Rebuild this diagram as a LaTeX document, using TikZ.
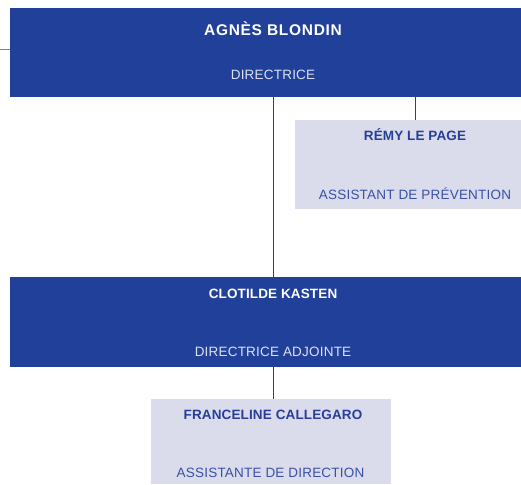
\documentclass[tikz,border=0pt]{standalone}
\usepackage{fontspec}
\setmainfont{Liberation Sans}
\newfontfamily\namefont{Liberation Sans}[LetterSpace=1]
\newfontfamily\topnamefont{Liberation Sans}[LetterSpace=4.5]
\newfontfamily\titlefont{Liberation Sans}[LetterSpace=1.5]
\definecolor{darkbox}{RGB}{33,64,154}
\definecolor{lightbox}{RGB}{218,220,236}
\definecolor{lighttext}{RGB}{221,224,242}
\definecolor{bluetext}{RGB}{40,62,152}
\definecolor{bluetitle}{RGB}{58,80,166}
\definecolor{linkblue}{RGB}{33,64,154}
\definecolor{sideblue}{RGB}{110,130,190}
\begin{document}
\begin{tikzpicture}[x=1pt,y=-1pt,
  darkrect/.style={fill=darkbox,draw=none,inner sep=0pt,anchor=north west},
  lightrect/.style={fill=lightbox,draw=none,inner sep=0pt,anchor=north west},
  topname/.style={text=white,font=\topnamefont\bfseries\fontsize{15.5}{18}\selectfont,inner sep=0pt,anchor=base},
  namedark/.style={text=white,font=\namefont\bfseries\fontsize{13.5}{16}\selectfont,inner sep=0pt,anchor=base},
  titledark/.style={text=lighttext,font=\titlefont\fontsize{13.5}{16}\selectfont,inner sep=0pt,anchor=base},
  namelight/.style={text=bluetext,font=\namefont\bfseries\fontsize{13.5}{16}\selectfont,inner sep=0pt,anchor=base},
  titlelight/.style={text=bluetitle,font=\titlefont\fontsize{13.5}{16}\selectfont,inner sep=0pt,anchor=base},
  link/.style={draw=linkblue,line width=1pt}]
\useasboundingbox (0,0) rectangle (521,484);
% boxes
\node[darkrect,minimum width=511pt,minimum height=89pt] (dir) at (10,8) {};
\node[lightrect,minimum width=226pt,minimum height=89pt] (prev) at (295,120) {};
\node[darkrect,minimum width=511pt,minimum height=90pt] (adj) at (10,277) {};
\node[lightrect,minimum width=240pt,minimum height=85pt] (asst) at (151,399) {};
% texts
\node[topname] (dirname) at (273,35.7) {AGNÈS BLONDIN};
\node[titledark] (dirtitle) at (273,80) {DIRECTRICE};
\node[namelight] (prevname) at (415,140) {RÉMY LE PAGE};
\node[titlelight] (prevtitle) at (415,199.3) {ASSISTANT DE PRÉVENTION};
\node[namedark] (adjname) at (273,298.3) {CLOTILDE KASTEN};
\node[titledark] (adjtitle) at (273,356.5) {DIRECTRICE ADJOINTE};
\node[namelight] (asstname) at (273,419) {FRANCELINE CALLEGARO};
\node[titlelight] (assttitle) at (270.5,477.7) {ASSISTANTE DE DIRECTION};
% connectors
\coordinate (side) at (0,50);
\draw[draw=sideblue,line width=1pt] (side) -- (side -| dir.west);
\draw[link] (dir.south -| dirtitle) -- (adj.north -| adjname);
\draw[link] (dir.south -| prevname) -- (prev.north -| prevname);
\draw[link] (adj.south -| adjname) -- (asst.north -| asstname);
\end{tikzpicture}
\end{document}
